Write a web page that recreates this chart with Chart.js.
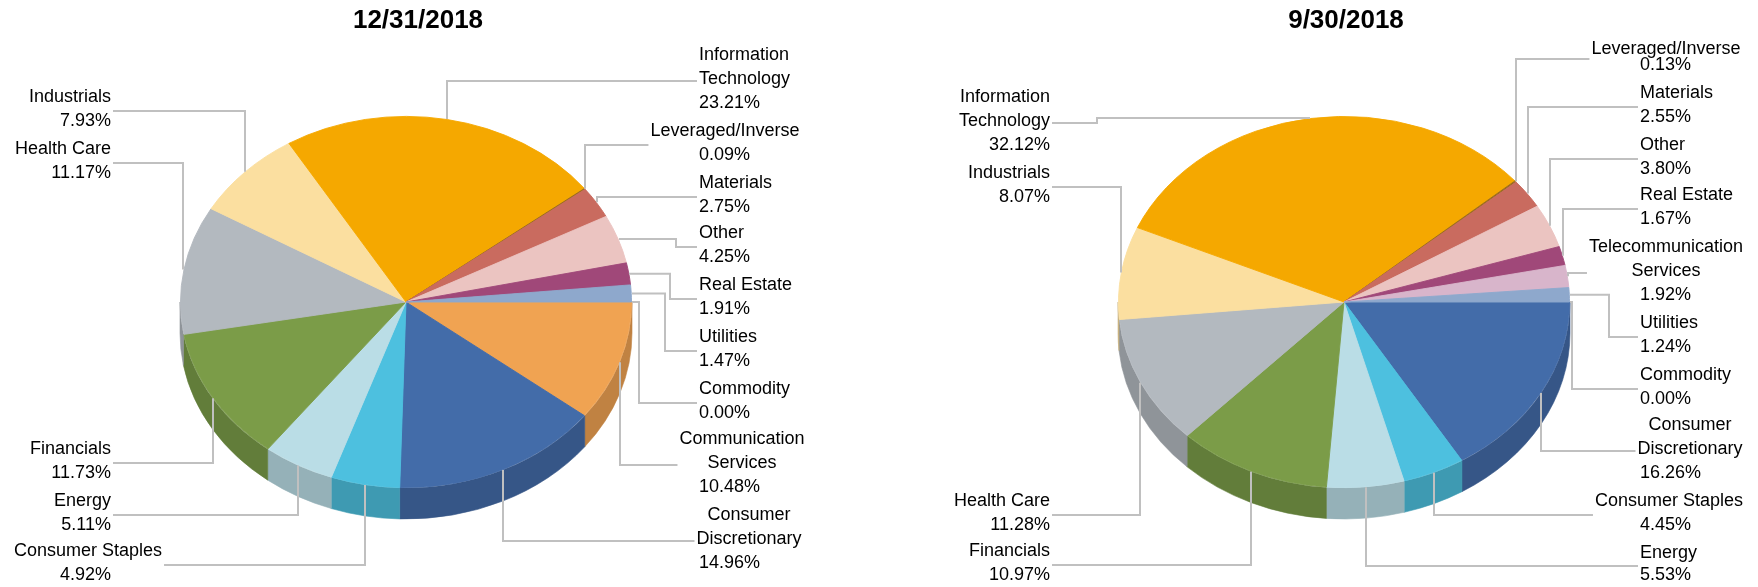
<!DOCTYPE html>
<html>
<head>
<meta charset="utf-8">
<title>Sector weights</title>
<script src="https://cdn.jsdelivr.net/npm/chart.js@4.4.1/dist/chart.umd.min.js"></script>
<style>
  html, body { margin: 0; padding: 0; background: #fff; }
  #wrap { position: relative; width: 1758px; height: 587px; }
  canvas { position: absolute; top: 0; }
</style>
</head>
<body>
<div id="wrap">
  <canvas id="pie-dec" width="879" height="587" style="left:0"></canvas>
  <canvas id="pie-sep" width="879" height="587" style="left:879px"></canvas>
</div>
<script>
// ── Data ───────────────────────────────────────
const decTitle   = '12/31/2018';
const decSectors = ['Commodity', 'Communication Services', 'Consumer Discretionary', 'Consumer Staples',
                    'Energy', 'Financials', 'Health Care', 'Industrials', 'Information Technology',
                    'Leveraged/Inverse', 'Materials', 'Other', 'Real Estate', 'Utilities'];
const decWeights = [0.00, 10.48, 14.96, 4.92, 5.11, 11.73, 11.17, 7.93, 23.21, 0.09, 2.75, 4.25, 1.91, 1.47];

const sepTitle   = '9/30/2018';
const sepSectors = ['Commodity', 'Consumer Discretionary', 'Consumer Staples', 'Energy', 'Financials',
                    'Health Care', 'Industrials', 'Information Technology', 'Leveraged/Inverse',
                    'Materials', 'Other', 'Real Estate', 'Telecommunication Services', 'Utilities'];
const sepWeights = [0.00, 16.26, 4.45, 5.53, 10.97, 11.28, 8.07, 32.12, 0.13, 2.55, 3.80, 1.67, 1.92, 1.24];

// ── Styles ─────────────────────────────────────
const sectorColors = {
  'Commodity':                  '#7F7F7F',
  'Communication Services':     '#F0A352',
  'Consumer Discretionary':     '#436CA9',
  'Consumer Staples':           '#4DC0DF',
  'Energy':                     '#BADDE6',
  'Financials':                 '#7B9C48',
  'Health Care':                '#B3B9BF',
  'Industrials':                '#FBDFA0',
  'Information Technology':     '#F5A800',
  'Leveraged/Inverse':          '#9A6B1F',
  'Materials':                  '#C96B5F',
  'Other':                      '#EBC4C1',
  'Real Estate':                '#A04879',
  'Telecommunication Services': '#D8B5CB',
  'Utilities':                  '#8EA8CC'
};

const wrapped = {
  'Information Technology':     ['Information', 'Technology'],
  'Communication Services':     ['Communication', 'Services'],
  'Consumer Discretionary':     ['Consumer', 'Discretionary'],
  'Telecommunication Services': ['Telecommunication', 'Services']
};

// label layout, page coords: x = edge of % line, y = first line, cx = centre of name lines,
// ex = elbow of leader line, lh = line height
const decLabelPos = {
  'Commodity':              { x: 699, y: 389, ex: 639 },
  'Communication Services': { x: 699, y: 439, cx: 742 },
  'Consumer Discretionary': { x: 699, y: 515, cx: 749 },
  'Consumer Staples':       { x: 111, y: 551, cx: 88 },
  'Energy':                 { x: 111, y: 501 },
  'Financials':             { x: 111, y: 449 },
  'Health Care':            { x: 111, y: 149 },
  'Industrials':            { x: 111, y: 97 },
  'Information Technology': { x: 699, y: 55 },
  'Leveraged/Inverse':      { x: 699, y: 131, cx: 725 },
  'Materials':              { x: 699, y: 183 },
  'Other':                  { x: 699, y: 233, ex: 676 },
  'Real Estate':            { x: 699, y: 285, ex: 670 },
  'Utilities':              { x: 699, y: 337, ex: 665 }
};

const sepLabelPos = {
  'Commodity':                  { x: 1640, y: 375, ex: 1572 },
  'Consumer Discretionary':     { x: 1640, y: 425, cx: 1690 },
  'Consumer Staples':           { x: 1640, y: 501, cx: 1669 },
  'Energy':                     { x: 1640, y: 553, lh: 22.5 },
  'Financials':                 { x: 1050, y: 551 },
  'Health Care':                { x: 1050, y: 501 },
  'Industrials':                { x: 1050, y: 173 },
  'Information Technology':     { x: 1050, y: 97, ex: 1097 },
  'Leveraged/Inverse':          { x: 1640, y: 49, cx: 1666, lh: 16 },
  'Materials':                  { x: 1640, y: 93 },
  'Other':                      { x: 1640, y: 145 },
  'Real Estate':                { x: 1640, y: 195 },
  'Telecommunication Services': { x: 1640, y: 247, cx: 1666 },
  'Utilities':                  { x: 1640, y: 323, ex: 1609 }
};

const LABEL_FONT = '18px "Liberation Sans", Arial, sans-serif';
const TITLE_FONT = 'bold 26px "Liberation Sans", Arial, sans-serif';

function shade(hex, f) {
  const n = parseInt(hex.slice(1), 16);
  const r = Math.round(((n >> 16) & 255) * f);
  const g = Math.round(((n >> 8) & 255) * f);
  const b = Math.round((n & 255) * f);
  return `rgb(${r},${g},${b})`;
}

// ── 3D pie plugin: side wall, tilt, leader labels, title ──
const pie3d = {
  id: 'pie3d',
  beforeDatasetsDraw(chart, args, opts) {
    const ctx    = chart.ctx;
    const meta   = chart.getDatasetMeta(0);
    const colors = chart.data.datasets[0].backgroundColor;
    meta.data.forEach((arc, i) => {
      const p = arc.getProps(['x', 'y', 'startAngle', 'endAngle', 'outerRadius'], true);
      const a = Math.max(p.startAngle, 0);
      const b = Math.min(p.endAngle, Math.PI);
      if (b <= a) return;
      const rx = p.outerRadius + 0.5, ry = rx * opts.tilt;
      ctx.beginPath();
      ctx.ellipse(p.x, p.y, rx, ry, 0, a, b, false);
      ctx.ellipse(p.x, p.y + opts.depth, rx, ry, 0, b, a, true);
      ctx.closePath();
      ctx.fillStyle = shade(colors[i], 0.8);
      ctx.strokeStyle = ctx.fillStyle;
      ctx.lineWidth = 0.6;
      ctx.fill();
      ctx.stroke();
    });
    const c = meta.data[0];
    ctx.save();
    ctx.translate(c.x, c.y);
    ctx.scale(1, opts.tilt);
    ctx.translate(-c.x, -c.y);
  },
  afterDatasetsDraw(chart, args, opts) {
    const ctx    = chart.ctx;
    ctx.restore();
    const meta   = chart.getDatasetMeta(0);
    const names  = chart.data.labels;
    const values = chart.data.datasets[0].data;
    ctx.save();
    ctx.font = LABEL_FONT;
    ctx.textBaseline = 'middle';
    ctx.textAlign = 'left';
    meta.data.forEach((arc, i) => {
      const name = names[i];
      const pos  = opts.positions[name];
      if (!pos) return;
      const p   = arc.getProps(['x', 'y', 'startAngle', 'endAngle', 'outerRadius'], true);
      const mid = (p.startAngle + p.endAngle) / 2;
      const R   = p.outerRadius + 0.5;
      const ax  = Math.round(p.x + R * Math.cos(mid));
      const ay  = p.y + R * opts.tilt * Math.sin(mid);
      const lines = (wrapped[name] || [name]).concat(values[i].toFixed(2) + '%');
      const lh  = pos.lh || 24;
      const x   = pos.x - opts.offsetX;
      const cx  = pos.cx != null ? pos.cx - opts.offsetX : null;
      const onRight = x > p.x;
      let boxL = Infinity, boxR = -Infinity;
      const placed = lines.map((t, j) => {
        const w = ctx.measureText(t).width;
        let lx;
        if (j < lines.length - 1 && cx != null) lx = cx - w / 2;
        else lx = onRight ? x : x - w;
        boxL = Math.min(boxL, lx);
        boxR = Math.max(boxR, lx + w);
        return { t, lx, y: pos.y + j * lh };
      });
      const lineY = Math.round(pos.y + (lines.length - 1) * lh / 2 + 1.5);
      const endX  = onRight ? boxL - 2 : boxR + 2;

      ctx.strokeStyle = '#C0C0C0';
      ctx.lineWidth = 2;
      ctx.beginPath();
      ctx.moveTo(ax, ay);
      if (pos.ex != null) {
        const ex = pos.ex - opts.offsetX;
        ctx.lineTo(ex, ay);
        ctx.lineTo(ex, lineY);
      } else {
        ctx.lineTo(ax, lineY);
      }
      ctx.lineTo(endX, lineY);
      ctx.stroke();

      ctx.fillStyle = '#000';
      placed.forEach(l => ctx.fillText(l.t, l.lx, l.y));
    });
    ctx.font = TITLE_FONT;
    ctx.textAlign = 'center';
    ctx.fillStyle = '#000';
    ctx.fillText(opts.title, opts.titleX - opts.offsetX, 21);
    ctx.restore();
  }
};

function makePie(id, sectors, weights, title, positions, cfg) {
  return new Chart(document.getElementById(id), {
    type: 'pie',
    data: {
      labels: sectors,
      datasets: [{
        data: weights,
        backgroundColor: sectors.map(s => sectorColors[s]),
        borderColor: sectors.map(s => sectorColors[s]),
        borderWidth: 1,
        clip: false
      }]
    },
    options: {
      responsive: false,
      animation: false,
      devicePixelRatio: 1,
      events: [],
      rotation: 90,
      layout: { padding: cfg.padding },
      plugins: {
        legend:  { display: false },
        tooltip: { enabled: false },
        title:   { display: false },
        pie3d: {
          tilt: 186 / 226,
          depth: 31,
          positions,
          title,
          titleX: cfg.titleX,
          offsetX: cfg.offsetX
        }
      }
    },
    plugins: [pie3d]
  });
}

// pie centres: (406, 302) and (1344, 302), radius 226
makePie('pie-dec', decSectors, decWeights, decTitle, decLabelPos,
        { padding: { left: 180, right: 247, top: 76, bottom: 59 }, titleX: 418, offsetX: 0 });
makePie('pie-sep', sepSectors, sepWeights, sepTitle, sepLabelPos,
        { padding: { left: 239, right: 188, top: 76, bottom: 59 }, titleX: 1346, offsetX: 879 });
</script>
</body>
</html>
